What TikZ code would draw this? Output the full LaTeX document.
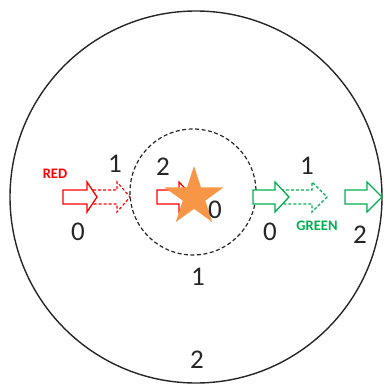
\documentclass[tikz,border=0pt]{standalone}
\usepackage{fontspec}
\setmainfont{Carlito}
\usetikzlibrary{shapes.geometric}
\definecolor{arrred}{RGB}{255,0,0}
\definecolor{arrgreen}{RGB}{0,176,80}
\definecolor{starorange}{RGB}{247,150,70}
\newcommand{\blockarrow}[4]{%
  \draw[#1] (#2,190) -- (#3,190) -- (#3,182) -- (#4,197) -- (#3,212) -- (#3,204) -- (#2,204) -- cycle;}
\tikzset{
  num/.style={inner sep=0pt, font=\fontsize{27}{30}\selectfont, text=black!85},
  tag/.style={inner sep=0pt, font=\fontsize{14.5}{16}\selectfont\bfseries},
  solidarr/.style={line width=1.3pt, fill=white, line join=miter},
  dasharr/.style={line width=1.1pt, dash pattern=on 3pt off 2pt},
}
\begin{document}
\begin{tikzpicture}[x=1pt,y=-1pt]
\useasboundingbox (0,0) rectangle (383,385);
% outer and inner circles
\draw[line width=1.4pt, black!85] (196,197) circle[radius=186];
\draw[line width=1.2pt, black!85, dash pattern=on 4pt off 2.5pt] (193,192) circle[radius=63];
% red arrows
\blockarrow{arrred, dasharr}{88}{117}{130}
\blockarrow{arrred, solidarr}{63}{87}{97}
\blockarrow{arrred, solidarr}{157}{179}{193}
% green arrows
\blockarrow{arrgreen, dasharr}{276}{312}{327}
\blockarrow{arrgreen, solidarr}{253}{275}{289}
\blockarrow{arrgreen, solidarr}{345}{367}{382}
% star
\node[star, star points=5, star point ratio=2.618, fill=starorange, minimum size=62pt, inner sep=0pt] (star) at (194,197) {};
% labels
\node[tag, text=arrred] (red) at (55,173.5) {RED};
\node[tag, text=arrgreen] (green) at (317,226) {GREEN};
\node[num] (r1) at (115,164) {1};
\node[num] (r0) at (78,232) {0};
\node[num] (i2) at (163,167) {2};
\node[num] (s0) at (215,210) {0};
\node[num] (b1) at (198,277) {1};
\node[num] (g0) at (270,232) {0};
\node[num] (g1) at (307,166) {1};
\node[num] (g2) at (360,235) {2};
\node[num] (o2) at (197,360) {2};
\end{tikzpicture}
\end{document}
